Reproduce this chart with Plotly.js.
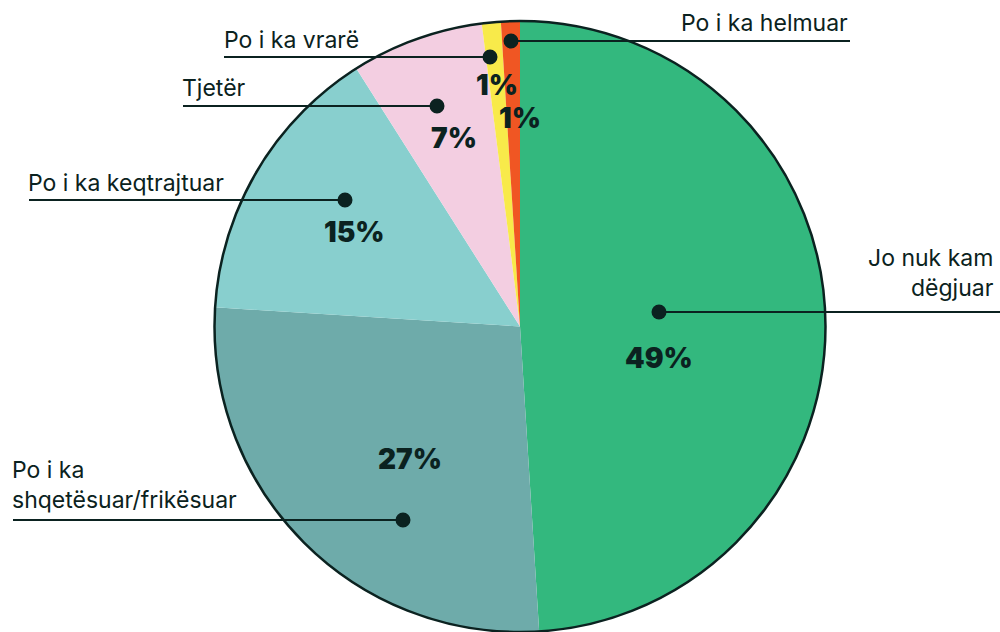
<!DOCTYPE html>
<html>
<head>
<meta charset="utf-8">
<script src="https://cdn.plot.ly/plotly-3.0.1.min.js"></script>
<style>
  html, body { margin: 0; padding: 0; background: #fff; }
  #chart { width: 1000px; height: 632px; }
</style>
</head>
<body>
<div id="chart"></div>
<script>
// slices, clockwise from 12 o'clock
const categories = ['Jo nuk kam dëgjuar', 'Po i ka shqetësuar/frikësuar', 'Po i ka keqtrajtuar',
  'Tjetër', 'Po i ka vrarë', 'Po i ka helmuar'];
const shares = [49, 27, 15, 7, 1, 1];
const sliceColors = ['#33b87e', '#6eabaa', '#88cfce', '#f3cee1', '#f8ea4a', '#f05623'];

// callout labels (text shown next to the leader line)
const calloutText = ['Jo nuk kam<br>dëgjuar', 'Po i ka<br>shqetësuar/frikësuar', 'Po i ka keqtrajtuar',
  'Tjetër', 'Po i ka vrarë', 'Po i ka helmuar'];

const INK = '#0b2220';
const W = 1000, H = 632;

// layout helpers in pixel space (hidden axes mapped 1:1 to the page)
const callouts = [
  { dot: [659, 312], end: 1000, side: 'right', textX: 996, textY: 304 },
  { dot: [403, 520], end: 13,   side: 'left',  textX: 10,  textY: 516 },
  { dot: [345, 200], end: 29,   side: 'left',  textX: 26,  textY: 199 },
  { dot: [437, 106], end: 183,  side: 'left',  textX: 180, textY: 104 },
  { dot: [490, 57],  end: 224,  side: 'left',  textX: 222, textY: 56 },
  { dot: [511, 41],  end: 850,  side: 'right', textX: 850, textY: 39 },
];
const pctPos = [[659, 358], [410, 459], [354, 232], [454, 138], [497, 85], [520, 118]];

const R = 306, CX = 520, CY = 327;
const pieDomain = {
  x: [(CX - R) / W, (CX + R) / W],
  y: [Math.max(0, (H - CY - R) / H), (H - CY + R) / H],
};

const shapes = [];
const annotations = [];
callouts.forEach((c, i) => {
  shapes.push({
    type: 'line', xref: 'x', yref: 'y',
    x0: c.dot[0], y0: c.dot[1], x1: c.end, y1: c.dot[1],
    line: { color: INK, width: 2 },
  });
  shapes.push({
    type: 'circle', xref: 'x', yref: 'y',
    x0: c.dot[0] - 7.5, x1: c.dot[0] + 7.5, y0: c.dot[1] - 7.5, y1: c.dot[1] + 7.5,
    fillcolor: INK, line: { width: 0 },
  });
  annotations.push({
    xref: 'x', yref: 'y', x: c.textX, y: c.textY,
    xanchor: c.side, yanchor: 'bottom', align: c.side,
    text: calloutText[i], showarrow: false,
    font: { family: 'Inter, "Noto Sans", sans-serif', size: 23, color: INK },
  });
  annotations.push({
    xref: 'x', yref: 'y', x: pctPos[i][0], y: pctPos[i][1],
    xanchor: 'center', yanchor: 'middle',
    text: shares[i] + '%', showarrow: false,
    font: { family: 'Inter, "Noto Sans", sans-serif', size: 28, color: INK, weight: 900 },
  });
});

Plotly.newPlot('chart', [
  {
    type: 'pie', labels: categories, values: shares,
    sort: false, direction: 'clockwise', rotation: 0,
    marker: { colors: sliceColors, line: { width: 0 } },
    textinfo: 'none', hoverinfo: 'label+percent',
    domain: pieDomain, showlegend: false,
  },
  {
    // outer outline only
    type: 'pie', labels: ['all'], values: [1],
    marker: { colors: ['rgba(0,0,0,0)'], line: { color: INK, width: 2.5 } },
    textinfo: 'none', hoverinfo: 'skip',
    domain: pieDomain, showlegend: false,
  },
], {
  width: W, height: H,
  margin: { t: 0, r: 0, b: 0, l: 0 },
  paper_bgcolor: '#fff', plot_bgcolor: 'rgba(0,0,0,0)',
  showlegend: false,
  xaxis: { range: [0, W], visible: false, fixedrange: true },
  yaxis: { range: [H, 0], visible: false, fixedrange: true },
  shapes, annotations,
}, { displayModeBar: false, staticPlot: true });
</script>
</body>
</html>
